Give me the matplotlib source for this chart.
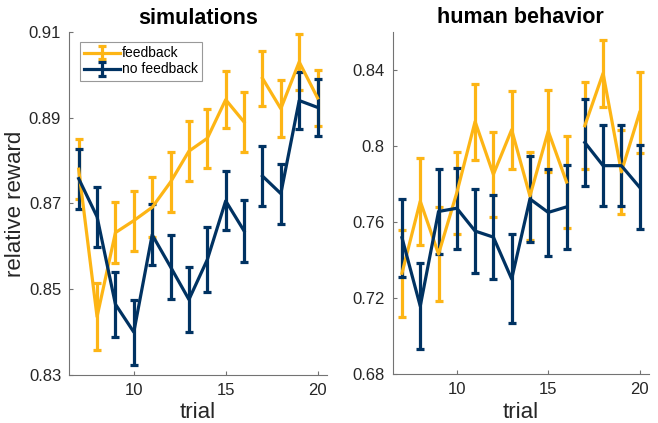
import numpy as np
import matplotlib
matplotlib.use('Agg')
import matplotlib.pyplot as plt
from matplotlib.ticker import FormatStrFormatter

plt.rcParams['font.family'] = ['Liberation Sans', 'DejaVu Sans']

gold = '#FDB515'
blue = '#003262'

trials = np.arange(7, 21)

# simulations
sim_fb = [0.878, 0.8436, 0.8632, 0.866, 0.8691, 0.875, 0.8822, 0.8852, 0.8942, 0.889, 0.8992, 0.8921, 0.903, 0.8946]
sim_fb_err = [0.007, 0.0078, 0.0072, 0.007, 0.007, 0.007, 0.007, 0.0069, 0.0066, 0.0069, 0.0064, 0.0067, 0.0065, 0.0066]
sim_nofb = [0.8758, 0.8669, 0.8465, 0.8400, 0.8627, 0.8552, 0.8476, 0.8569, 0.8706, 0.8636, 0.8764, 0.8723, 0.894, 0.8924]
sim_nofb_err = [0.007, 0.007, 0.0076, 0.0076, 0.0071, 0.0074, 0.0076, 0.0076, 0.0069, 0.0072, 0.0069, 0.007, 0.0066, 0.0066]

# human behavior
hum_fb = [0.733, 0.7709, 0.7431, 0.7754, 0.8128, 0.785, 0.8085, 0.7736, 0.8078, 0.781, 0.8106, 0.8382, 0.7863, 0.8176]
hum_fb_err = [0.0228, 0.0228, 0.0248, 0.0215, 0.020, 0.0224, 0.0204, 0.0232, 0.0215, 0.0242, 0.023, 0.0177, 0.0219, 0.0213]
hum_nofb = [0.7517, 0.7157, 0.7655, 0.7672, 0.7552, 0.752, 0.730, 0.7721, 0.765, 0.7679, 0.8018, 0.7896, 0.7896, 0.7782]
hum_nofb_err = [0.0206, 0.0228, 0.0225, 0.0212, 0.0223, 0.022, 0.0234, 0.0228, 0.0228, 0.0222, 0.023, 0.0213, 0.0213, 0.022]

# the lines break between trial 16 and 17
split = 16

fig = plt.figure(figsize=(6.58, 4.23), dpi=100)
ax1 = fig.add_axes([0.1056, 0.1135, 0.391, 0.811])
ax2 = fig.add_axes([0.597, 0.1158, 0.389, 0.809])


def draw(ax, y, err, color, label):
    y = np.asarray(y)
    err = np.asarray(err)
    for k, m in enumerate([trials <= split, trials > split]):
        ax.errorbar(trials[m], y[m], yerr=err[m], color=color, lw=2.3,
                    capsize=3, capthick=2.3, label=label if k == 0 else None)


def style(ax, ylim, yticks, title):
    ax.set_xlim(6.5, 20.5)
    ax.set_ylim(*ylim)
    ax.set_xticks([10, 15, 20])
    ax.set_yticks(yticks)
    ax.yaxis.set_major_formatter(FormatStrFormatter('%g'))
    for s in ['top', 'right']:
        ax.spines[s].set_visible(False)
    for s in ['left', 'bottom']:
        ax.spines[s].set_color('0.45')
        ax.spines[s].set_linewidth(0.8)
    ax.tick_params(direction='in', length=3, width=0.8, color='0.45',
                   labelsize=12, labelcolor='#262626', pad=6)
    ax.set_title(title, fontsize=15.5, fontweight='bold', pad=6)
    ax.set_xlabel('trial', fontsize=16, color='#262626', labelpad=3)


draw(ax1, sim_fb, sim_fb_err, gold, 'feedback')
draw(ax1, sim_nofb, sim_nofb_err, blue, 'no feedback')
style(ax1, (0.83, 0.91), [0.83, 0.85, 0.87, 0.89, 0.91], 'simulations')
ax1.set_ylabel('relative reward', fontsize=16, color='#262626', labelpad=2)
leg = ax1.legend(loc='upper left', bbox_to_anchor=(0.04, 0.97), borderaxespad=0,
                 fancybox=False, fontsize=10, handlelength=2.6, handletextpad=0.15,
                 borderpad=0.3, labelspacing=0.15, edgecolor='0.5')
leg.get_frame().set_linewidth(0.8)

draw(ax2, hum_fb, hum_fb_err, gold, 'feedback')
draw(ax2, hum_nofb, hum_nofb_err, blue, 'no feedback')
style(ax2, (0.68, 0.86), [0.68, 0.72, 0.76, 0.8, 0.84], 'human behavior')

fig.savefig('out.png', dpi=100)
